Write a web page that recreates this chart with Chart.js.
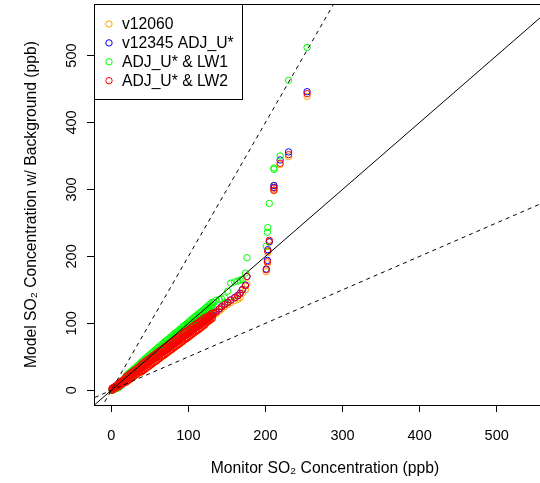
<!DOCTYPE html>
<html><head><meta charset="utf-8">
<script src="https://cdn.jsdelivr.net/npm/chart.js@4.4.0/dist/chart.umd.min.js"></script>
<style>
html,body{margin:0;padding:0;overflow:hidden;background:#fff;width:540px;height:483px}
#wrap{position:absolute;left:0;top:0;width:560px;height:483px}
</style>
</head><body><div id="wrap"><canvas id="c" width="560" height="483"></canvas></div>
<script>
const bandMonitor = [1,3,5,7,9,11,13,15,17,19,
  21,23,25,27,29,31,33,35,37,39,
  41,43,45,47,49,51,53,55,57,59,
  61,63,65,67,69,71,73,75,77,79,
  81,83,85,87,89,91,93,95,97,99,
  101,103,105,107,109,111,113,115,117,119,
  121,123,125,127,129,131];
// Monitor values of the sparse upper tail
const tailMonitor = [133,136,140,143,147,151,155,160,164,167,170,174,176,
  201,202.5,203,205,211,211,219,230,254];

// v12060 (orange)
const v12060Band = [0,1,2.5,4,5,6.5,8,9.5,11.5,12,
  13.5,15,17,18.5,20.5,22,23.5,25.5,27,27,
  29,30.5,32.5,34,35.5,37.5,39,41,42.5,44,
  46,47.5,49.5,51,52.5,54.5,56,58,59.5,61,
  63,64.5,66.5,68,69.5,71.5,73,75,76.5,78,
  80,81.5,83.5,85,87,88.5,90,92,93.5,95.5,
  97,100,102,103.5,105.5,107];
const v12060Tail = [112.5,114.5,118,121.5,125,128,131,134,136,138,145,150,159,
  177,189,206,221,298,305,337,349,439];
// v12345 ADJ_U* (blue)
const v12345Band = [2.5,4,5.5,7,8.5,10.5,12,13.5,15.5,17,
  19,20.5,22.5,24,26,27.5,29,31,32.5,34,
  36,37.5,39.5,41,42.5,44.5,46,48,49.5,51,
  53,54.5,56.5,58,59.5,61.5,63,65,66.5,68,
  70,71.5,73.5,75,76.5,78.5,80,82,83.5,85,
  87,88.5,90.5,92,94,95.5,97,99,100.5,102.5,
  104,105.5,107.5,109,111,112.5];
const v12345Tail = [115.5,117.5,121.5,125,128.5,131.5,135,138.5,141.5,145,150.5,157,170,
  181,194,210,222,303,306,344,356,446];
// ADJ_U* & LW1 (green)
const lw1Low = [0,0.5,2,3,3.5,5.5,7.5,10,12.5,13,
  15.5,17.5,19.5,21.5,23.5,25.5,27.5,29.5,31.5,33,
  35,37,39,41,43,45,47,49,51,53,
  55,57,59,61,63,65,66.5,68.5,70.5,72.5,
  74.5,76.5,78,80,82,84,86,88,89.5,91.5,
  93.5,95.5,97.5,99.5,101,103,105,107,108.5,110.5,
  112.5,114.5,116.5,118.5,120.5,122.5];
const lw1Mid = [0.5,1.5,3,4,6,8,10,12.5,15,17,
  19.5,21.5,23.5,25.5,27.5,29.5,31.5,33.5,35.5,37.5,
  39.5,41.5,43.5,45.5,47.5,49.5,51.5,53.5,55.5,57.5,
  59.5,61.5,63.5,65.5,67.5,69.5,71,73,75,77,
  79,81,82.5,84.5,86.5,88.5,90.5,92.5,94,96,
  98,100,102,104,105.5,107.5,109.5,111.5,113,115,
  117,119,121,123,125,127];
const lw1High = [1.5,2.5,4,5,8.5,10.5,12.5,15,17.5,21,
  23.5,25.5,27.5,29.5,31.5,33.5,35.5,37.5,39.5,42,
  44,46,48,50,52,54,56,58,60,62,
  64,66,68,70,72,74,75.5,77.5,79.5,81.5,
  83.5,85.5,87,89,91,93,95,97,98.5,100.5,
  102.5,104.5,106.5,108.5,110,112,114,116,117.5,119.5,
  121.5,123.5,125.5,127.5,129.5,131.5];
const lw1Tail = [131,134.5,135.5,136.5,138,148,160,162,163,164.5,166,175,198,
  215,236,243,279,330,332,350,463,512];
// ADJ_U* & LW2 (red)
const lw2Low = [0,1.5,3,4.5,5,7,8.5,10,12,12,
  14,15.5,17.5,19,21,22.5,24,26,27.5,27.5,
  29.5,31,33,34.5,36,38,39.5,41.5,43,44.5,
  46.5,48,50,51.5,53,55,56.5,58.5,60,61.5,
  63.5,65,67,68.5,70,72,73.5,75.5,77,78.5,
  80.5,82,84,85.5,87.5,89,90.5,92.5,94,96,
  97.5,100.5,102.5,104,106,107.5];
const lw2Mid = [1.5,3,4.5,6,7.5,9.5,11,12.5,14.5,16,
  18,19.5,21.5,23,25,26.5,28,30,31.5,33,
  35,36.5,38.5,40,41.5,43.5,45,47,48.5,50,
  52,53.5,55.5,57,58.5,60.5,62,64,65.5,67,
  69,70.5,72.5,74,75.5,77.5,79,81,82.5,84,
  86,87.5,89.5,91,93,94.5,96,98,99.5,101.5,
  103,104.5,106.5,108,110,111.5];
const lw2High = [3,4.5,6,7.5,10,12,13.5,15,17,20,
  22,23.5,25.5,27,29,30.5,32,34,35.5,38.5,
  40.5,42,44,45.5,47,49,50.5,52.5,54,55.5,
  57.5,59,61,62.5,64,66,67.5,69.5,71,72.5,
  74.5,76,78,79.5,81,83,84.5,86.5,88,89.5,
  91.5,93,95,96.5,98.5,100,101.5,103.5,105,107,
  108.5,108.5,110.5,112,114,115.5];
const lw2Tail = [115,117,121,124.5,128,131,134.5,138,141,144.5,150,156,170,
  180,192,208,224,299,302,339,352,443];

const seriesLabels = ['v12060','v12345 ADJ_U*','ADJ_U* & LW1','ADJ_U* & LW2'];
const seriesColors = ['#FFA500','#0000FF','#00FF00','#FF0000'];
const xTicks = [0,100,200,300,400,500];
const yTicks = [0,100,200,300,400,500];
const refSlopes = [1, 2, 0.5];
const refDashes = [[], [4,4], [4,4]];
const xTitle = 'Monitor SO\u2082 Concentration (ppb)';
const yTitle = 'Model SO\u2082 Concentration w/ Background (ppb)';

const FONT = "'Liberation Sans', Arial, Helvetica, sans-serif";

const pts = (xs, ys) => xs.map((x, j) => ({x: x, y: ys[j]}));
const seriesData = [
  pts(bandMonitor, v12060Band).concat(pts(tailMonitor, v12060Tail)),
  pts(bandMonitor, v12345Band).concat(pts(tailMonitor, v12345Tail)),
  pts(bandMonitor, lw1Low).concat(pts(bandMonitor, lw1Mid), pts(bandMonitor, lw1High), pts(tailMonitor, lw1Tail)),
  pts(bandMonitor, lw2Low).concat(pts(bandMonitor, lw2Mid), pts(bandMonitor, lw2High), pts(tailMonitor, lw2Tail))
];

const datasets = seriesData.map((data, i) => ({
  label: seriesLabels[i],
  data: data,
  borderColor: seriesColors[i],
  backgroundColor: 'rgba(0,0,0,0)',
  pointStyle: 'circle',
  pointRadius: 3.2,
  pointBorderWidth: 1,
  showLine: false,
  order: 4 - i
}));
refSlopes.forEach((s, k) => {
  datasets.push({
    label: 'ref' + k,
    isRef: true,
    data: [{x: -50, y: -50 * s}, {x: 700, y: 700 * s}],
    showLine: true,
    borderColor: '#000',
    borderWidth: 1,
    borderDash: refDashes[k],
    pointRadius: 0,
    fill: false,
    order: 0
  });
});

const framePlugin = {
  id: 'frame',
  afterDraw(chart) {
    const {ctx, chartArea: a} = chart;
    ctx.save();
    ctx.strokeStyle = '#000';
    ctx.lineWidth = 1;
    ctx.beginPath();
    ctx.moveTo(a.left + 0.5, a.bottom + 0.5);
    ctx.lineTo(a.left + 0.5, a.top + 0.5);
    ctx.lineTo(a.right + 0.5, a.top + 0.5);
    ctx.lineTo(a.right + 0.5, a.bottom + 0.5);
    ctx.stroke();
    // legend box (R style, top-left inside plot)
    const lx = a.left, ly = a.top, lw = 148, lh = 95;
    ctx.fillStyle = '#fff';
    ctx.fillRect(lx, ly, lw, lh);
    ctx.strokeRect(lx + 0.5, ly + 0.5, lw, lh);
    ctx.font = '15.7px ' + FONT;
    ctx.textBaseline = 'middle';
    ctx.textAlign = 'left';
    chart.data.datasets.filter(d => !d.isRef).forEach((d, i) => {
      const cy = ly + 20 + i * 18.9;
      ctx.beginPath();
      ctx.arc(lx + 15, cy, 3.2, 0, Math.PI * 2);
      ctx.strokeStyle = d.borderColor;
      ctx.stroke();
      ctx.fillStyle = '#000';
      ctx.fillText(d.label, lx + 28, cy + 1);
    });
    ctx.restore();
  }
};

new Chart(document.getElementById('c'), {
  type: 'scatter',
  data: {datasets},
  plugins: [framePlugin],
  options: {
    responsive: false,
    animation: false,
    devicePixelRatio: 1,
    events: [],
    layout: {padding: {top: 4, right: 4, left: 0, bottom: 0}, autoPadding: false},
    plugins: {legend: {display: false}, tooltip: {enabled: false}},
    scales: {
      x: {
        type: 'linear', min: -22.5, max: 577,
        afterBuildTicks: s => { s.ticks = xTicks.map(v => ({value: v})); },
        afterFit: s => { s.height = 78; s.paddingLeft = 0; s.paddingRight = 0; },
        grid: {display: true, drawOnChartArea: false, drawTicks: true, tickLength: 7, color: '#000', lineWidth: 1},
        border: {display: true, color: '#000', width: 1},
        ticks: {color: '#000', font: {family: FONT, size: 14.5}, padding: 15, maxRotation: 0, autoSkip: false},
        title: {display: true, text: xTitle, color: '#000', font: {family: FONT, size: 15.7}, padding: {top: 0, bottom: 5}}
      },
      y: {
        type: 'linear', min: -22, max: 577,
        afterBuildTicks: s => { s.ticks = yTicks.map(v => ({value: v})); },
        afterFit: s => { s.width = 94; s.paddingTop = 0; s.paddingBottom = 0; },
        grid: {display: true, drawOnChartArea: false, drawTicks: true, tickLength: 7, color: '#000', lineWidth: 1},
        border: {display: true, color: '#000', width: 1},
        ticks: {color: '#000', font: {family: FONT, size: 14.5}, padding: 3, minRotation: 90, maxRotation: 90, crossAlign: 'center', autoSkip: false},
        title: {display: true, text: yTitle, color: '#000', font: {family: FONT, size: 15.7}, padding: {top: 22, bottom: 0}}
      }
    }
  }
});
</script>
</body></html>
